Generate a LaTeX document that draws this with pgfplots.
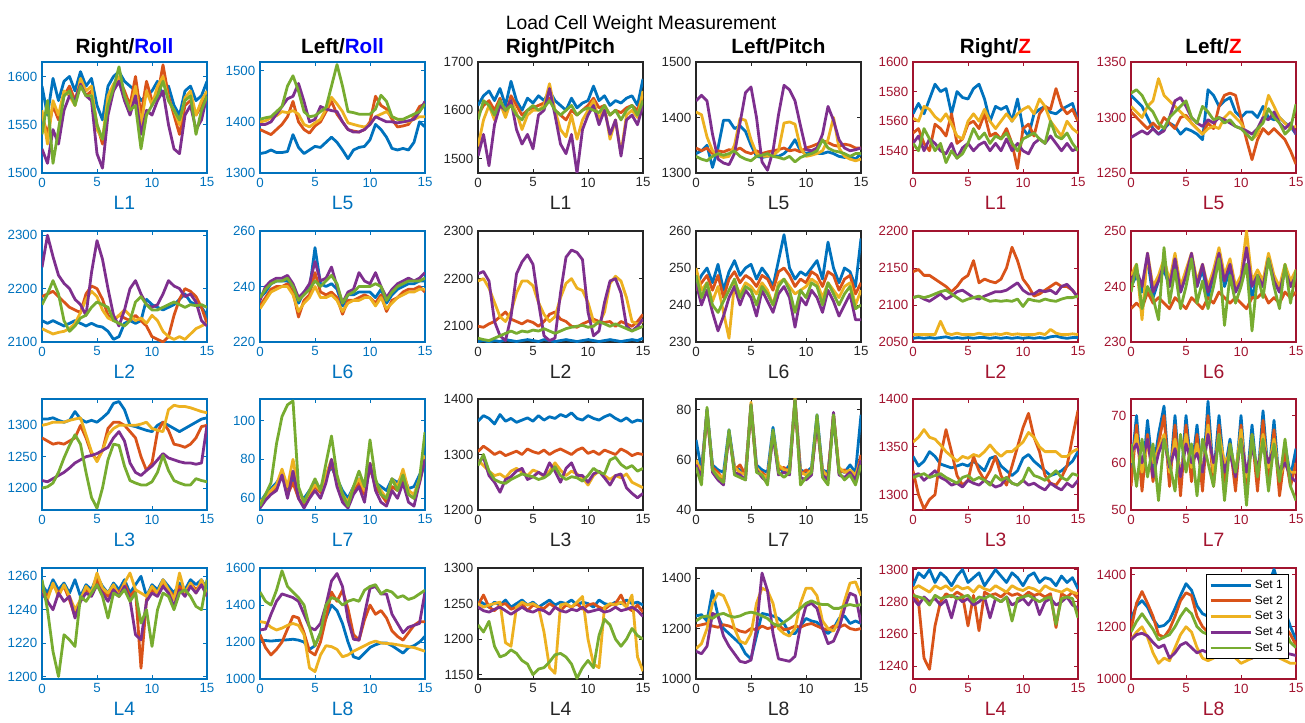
\documentclass[border=0pt]{standalone}
\usepackage{pgfplots}
\usepackage{pgfplotstable}
\pgfplotsset{compat=1.18}
\usepackage{fontspec}
\setmainfont{Liberation Sans}

\definecolor{c1}{rgb}{0,0.447,0.741}
\definecolor{c2}{rgb}{0.85,0.325,0.098}
\definecolor{c3}{rgb}{0.929,0.694,0.125}
\definecolor{c4}{rgb}{0.494,0.184,0.556}
\definecolor{c5}{rgb}{0.466,0.674,0.188}
\definecolor{axb}{rgb}{0,0.447,0.741}
\definecolor{axk}{rgb}{0.15,0.15,0.15}
\definecolor{axr}{rgb}{0.635,0.078,0.184}
\definecolor{tb}{rgb}{0,0,1}
\definecolor{tr}{rgb}{1,0,0}

\pgfplotsset{
  panel/.style={scale only axis, width=123.75pt, height=83.25pt, anchor=south west,
    xmin=0, xmax=15, xtick={0,5,10,15}, scaled ticks=false,
    xtick pos=both, ytick pos=both, xticklabel pos=lower, yticklabel pos=left,
    major tick length=3pt,
    /pgf/number format/assume math mode=true, /pgf/number format/1000 sep={},
    tick label style={font=\fontsize{10}{12}\selectfont},
    xlabel style={font=\fontsize{14.5}{17}\selectfont},
    legend image code/.code={\draw[##1] (0pt,0pt) -- (30pt,0pt);},
    legend style={at={(0.955,0.945)}, anchor=north east, draw=black, fill=white,
      line width=0.7pt, font=\fontsize{9}{11}\selectfont, inner sep=2pt, row sep=0pt},
    legend cell align=left},
  acol/.style={axis line style={draw=#1, line width=1pt}, tick style={draw=#1, line width=0.7pt},
    tick label style={text=#1}, label style={text=#1}},
  s1/.style={color=c1, line width=2.1pt, line join=round, mark=none},
  s2/.style={color=c2, line width=2.1pt, line join=round, mark=none},
  s3/.style={color=c3, line width=2.1pt, line join=round, mark=none},
  s4/.style={color=c4, line width=2.1pt, line join=round, mark=none},
  s5/.style={color=c5, line width=2.1pt, line join=round, mark=none},
}

% each raw table: one row per series, transposed to columns x a b c d e
% row 1
\pgfplotstableread[header=false]{
x 0 0.5 1 1.5 2 2.5 3 3.5 4 4.5 5 5.5 6 6.5 7 7.5 8 8.5 9 9.5 10 10.5 11 11.5 12 12.5 13 13.5 14 14.5 15
a 1590 1560 1598 1575 1595 1600 1585 1605 1590 1598 1570 1555 1590 1600 1605 1595 1590 1585 1575 1580 1585 1595 1580 1590 1570 1560 1585 1590 1575 1580 1595
b 1560 1540 1570 1555 1580 1590 1575 1595 1580 1585 1550 1530 1575 1590 1598 1585 1570 1600 1560 1595 1575 1580 1612 1580 1560 1540 1570 1575 1560 1570 1580
c 1565 1530 1575 1560 1585 1580 1570 1598 1585 1590 1545 1535 1580 1592 1600 1580 1565 1590 1550 1585 1570 1590 1600 1575 1565 1550 1578 1585 1560 1575 1585
d 1525 1510 1545 1530 1565 1580 1575 1592 1580 1575 1520 1505 1560 1585 1595 1575 1560 1580 1540 1565 1560 1575 1585 1550 1525 1520 1560 1570 1545 1555 1580
e 1540 1575 1510 1545 1580 1585 1570 1590 1580 1580 1550 1535 1570 1588 1610 1580 1565 1570 1525 1560 1570 1580 1595 1575 1565 1555 1575 1580 1540 1565 1580
}\raw
\pgfplotstabletranspose[colnames from=0]{\tA}{\raw}
\pgfplotstableread[header=false]{
x 0 0.5 1 1.5 2 2.5 3 3.5 4 4.5 5 5.5 6 6.5 7 7.5 8 8.5 9 9.5 10 10.5 11 11.5 12 12.5 13 13.5 14 14.5 15
a 1338 1340 1345 1340 1340 1342 1375 1350 1338 1345 1352 1350 1360 1370 1360 1345 1328 1345 1350 1352 1365 1395 1385 1370 1348 1345 1348 1345 1360 1400 1390
b 1385 1380 1375 1385 1395 1410 1440 1400 1385 1378 1392 1400 1420 1440 1415 1400 1385 1382 1380 1385 1400 1450 1432 1425 1405 1390 1392 1395 1410 1430 1435
c 1400 1402 1408 1412 1420 1418 1422 1415 1395 1390 1398 1405 1425 1448 1435 1420 1398 1395 1392 1390 1395 1410 1415 1420 1410 1405 1400 1400 1405 1410 1410
d 1395 1395 1400 1415 1430 1445 1450 1475 1440 1400 1405 1430 1425 1422 1420 1400 1385 1380 1380 1385 1395 1410 1405 1400 1400 1398 1400 1402 1405 1420 1440
e 1405 1408 1410 1420 1430 1470 1490 1460 1420 1410 1412 1420 1428 1470 1512 1470 1420 1418 1415 1415 1415 1425 1452 1440 1410 1405 1405 1410 1415 1420 1435
}\raw
\pgfplotstabletranspose[colnames from=0]{\tB}{\raw}
\pgfplotstableread[header=false]{
x 0 0.5 1 1.5 2 2.5 3 3.5 4 4.5 5 5.5 6 6.5 7 7.5 8 8.5 9 9.5 10 10.5 11 11.5 12 12.5 13 13.5 14 14.5 15
a 1610 1630 1640 1620 1645 1610 1660 1620 1600 1625 1615 1630 1620 1640 1620 1610 1600 1625 1605 1615 1620 1650 1620 1630 1610 1620 1615 1625 1630 1610 1665
b 1590 1610 1620 1600 1625 1590 1630 1610 1590 1600 1605 1610 1615 1625 1600 1590 1580 1600 1590 1600 1610 1625 1605 1610 1590 1600 1595 1605 1610 1600 1630
c 1525 1580 1610 1580 1615 1585 1620 1595 1560 1590 1600 1600 1610 1655 1600 1560 1545 1590 1540 1580 1600 1620 1580 1610 1540 1580 1510 1590 1600 1585 1640
d 1505 1550 1485 1570 1610 1600 1620 1560 1530 1550 1520 1590 1600 1645 1590 1530 1510 1550 1470 1560 1590 1610 1570 1600 1550 1580 1505 1580 1590 1570 1610
e 1580 1620 1610 1590 1620 1600 1610 1590 1580 1600 1610 1600 1605 1620 1600 1590 1600 1610 1590 1600 1605 1600 1595 1610 1590 1600 1580 1600 1610 1590 1620
}\raw
\pgfplotstabletranspose[colnames from=0]{\tC}{\raw}
\pgfplotstableread[header=false]{
x 0 0.5 1 1.5 2 2.5 3 3.5 4 4.5 5 5.5 6 6.5 7 7.5 8 8.5 9 9.5 10 10.5 11 11.5 12 12.5 13 13.5 14 14.5 15
a 1335 1340 1350 1310 1345 1395 1395 1380 1385 1375 1350 1330 1328 1330 1332 1330 1335 1345 1360 1340 1335 1338 1335 1335 1338 1335 1330 1328 1330 1325 1335
b 1345 1340 1345 1335 1340 1338 1342 1340 1345 1338 1335 1340 1335 1338 1340 1342 1345 1340 1342 1338 1345 1348 1352 1358 1355 1350 1348 1352 1350 1345 1345
c 1410 1405 1365 1340 1332 1328 1330 1350 1398 1395 1360 1335 1330 1330 1332 1340 1390 1392 1388 1345 1330 1332 1335 1340 1360 1400 1345 1330 1325 1322 1325
d 1430 1440 1430 1370 1325 1318 1315 1335 1390 1445 1455 1400 1320 1305 1340 1405 1458 1450 1430 1385 1342 1340 1345 1370 1420 1395 1360 1345 1340 1342 1345
e 1330 1325 1322 1330 1335 1332 1335 1340 1330 1325 1322 1330 1332 1335 1330 1328 1325 1330 1320 1328 1332 1335 1340 1360 1345 1340 1338 1335 1330 1335 1335
}\raw
\pgfplotstabletranspose[colnames from=0]{\tD}{\raw}
\pgfplotstableread[header=false]{
x 0 0.5 1 1.5 2 2.5 3 3.5 4 4.5 5 5.5 6 6.5 7 7.5 8 8.5 9 9.5 10 10.5 11 11.5 12 12.5 13 13.5 14 14.5 15
a 1565 1572 1565 1575 1585 1580 1582 1565 1580 1576 1575 1582 1585 1575 1560 1570 1568 1570 1560 1575 1555 1550 1565 1568 1570 1566 1565 1568 1570 1572 1560
b 1552 1555 1545 1540 1558 1555 1550 1565 1545 1548 1558 1560 1555 1565 1550 1552 1548 1555 1545 1528 1555 1558 1550 1565 1570 1568 1582 1570 1565 1568 1560
c 1562 1560 1570 1568 1563 1560 1565 1558 1550 1548 1560 1565 1560 1568 1560 1555 1560 1565 1560 1565 1568 1570 1565 1575 1570 1560 1555 1550 1560 1555 1552
d 1545 1550 1540 1548 1545 1540 1538 1545 1535 1542 1545 1540 1544 1546 1540 1545 1540 1548 1540 1545 1540 1538 1545 1548 1545 1550 1545 1540 1545 1540 1542
e 1545 1540 1555 1548 1540 1545 1532 1540 1535 1538 1545 1555 1548 1552 1545 1550 1548 1552 1545 1540 1548 1550 1552 1548 1545 1560 1550 1548 1552 1545 1540
}\raw
\pgfplotstabletranspose[colnames from=0]{\tE}{\raw}
\pgfplotstableread[header=false]{
x 0 0.5 1 1.5 2 2.5 3 3.5 4 4.5 5 5.5 6 6.5 7 7.5 8 8.5 9 9.5 10 10.5 11 11.5 12 12.5 13 13.5 14 14.5 15
a 1320 1315 1310 1300 1290 1285 1290 1295 1292 1285 1290 1288 1285 1280 1325 1320 1310 1315 1318 1305 1300 1305 1305 1300 1310 1300 1298 1300 1295 1292 1285
b 1305 1300 1295 1290 1295 1290 1300 1295 1290 1300 1302 1295 1290 1285 1295 1290 1310 1320 1322 1320 1300 1280 1262 1280 1290 1285 1290 1285 1280 1270 1258
c 1310 1305 1300 1310 1315 1335 1320 1315 1310 1305 1300 1295 1290 1285 1290 1292 1290 1300 1305 1300 1295 1285 1280 1285 1300 1320 1310 1300 1295 1290 1292
d 1282 1285 1288 1285 1290 1285 1288 1300 1315 1318 1310 1300 1295 1292 1298 1295 1300 1298 1295 1292 1290 1288 1285 1290 1300 1298 1305 1295 1290 1295 1285
e 1322 1325 1320 1310 1305 1295 1290 1300 1305 1310 1315 1300 1295 1310 1305 1298 1300 1295 1298 1292 1290 1285 1280 1290 1295 1308 1300 1295 1285 1290 1312
}\raw
\pgfplotstabletranspose[colnames from=0]{\tF}{\raw}
% row 2
\pgfplotstableread[header=false]{
x 0 0.5 1 1.5 2 2.5 3 3.5 4 4.5 5 5.5 6 6.5 7 7.5 8 8.5 9 9.5 10 10.5 11 11.5 12 12.5 13 13.5 14 14.5 15
a 2140 2135 2140 2135 2130 2135 2140 2135 2130 2135 2130 2128 2120 2105 2110 2135 2140 2135 2140 2180 2170 2165 2160 2165 2170 2180 2190 2175 2170 2165 2150
b 2185 2190 2195 2185 2175 2165 2160 2155 2190 2205 2200 2180 2150 2140 2150 2145 2140 2150 2140 2130 2110 2105 2100 2110 2150 2180 2200 2195 2185 2165 2135
c 2125 2120 2115 2118 2120 2125 2135 2155 2180 2195 2185 2160 2145 2140 2150 2160 2150 2140 2145 2135 2150 2140 2120 2110 2105 2110 2105 2115 2125 2130 2135
d 2240 2300 2260 2225 2210 2200 2180 2170 2150 2230 2290 2255 2200 2150 2130 2160 2200 2215 2190 2170 2165 2170 2190 2215 2205 2200 2185 2190 2175 2140 2130
e 2170 2190 2215 2190 2140 2120 2130 2145 2150 2165 2175 2170 2165 2140 2135 2130 2140 2175 2185 2170 2160 2160 2165 2170 2175 2170 2165 2170 2168 2170 2165
}\raw
\pgfplotstabletranspose[colnames from=0]{\tG}{\raw}
\pgfplotstableread[header=false]{
x 0 0.5 1 1.5 2 2.5 3 3.5 4 4.5 5 5.5 6 6.5 7 7.5 8 8.5 9 9.5 10 10.5 11 11.5 12 12.5 13 13.5 14 14.5 15
a 236 238 241 242 242 242 240 234 238 239 254 241 240 241 239 233 237 237 238 238 238 236 239 234 237 239 240 241 241 242 242
b 233 236 239 240 240 241 238 229 235 237 245 238 237 238 236 230 235 235 236 237 236 234 237 231 235 236 238 239 239 240 238
c 232 235 238 239 240 240 237 231 234 236 240 236 236 237 235 231 234 235 235 236 236 233 236 232 234 236 237 238 238 239 239
d 235 240 242 243 243 244 241 236 238 241 249 242 243 247 240 234 238 239 245 242 241 245 240 236 239 241 242 243 242 243 245
e 236 239 241 242 242 243 240 235 237 239 242 240 242 244 241 234 237 238 240 240 240 241 240 235 238 240 241 242 242 242 243
}\raw
\pgfplotstabletranspose[colnames from=0]{\tH}{\raw}
\pgfplotstableread[header=false]{
x 0 0.5 1 1.5 2 2.5 3 3.5 4 4.5 5 5.5 6 6.5 7 7.5 8 8.5 9 9.5 10 10.5 11 11.5 12 12.5 13 13.5 14 14.5 15
a 2068 2070 2067 2070 2068 2072 2070 2068 2070 2072 2070 2068 2072 2070 2068 2070 2072 2070 2068 2070 2072 2070 2068 2070 2072 2070 2068 2070 2072 2070 2075
b 2100 2098 2105 2110 2120 2130 2115 2110 2105 2112 2108 2100 2110 2125 2130 2115 2110 2100 2098 2105 2110 2115 2110 2108 2110 2100 2110 2105 2100 2110 2125
c 2195 2200 2180 2150 2120 2110 2130 2170 2195 2195 2185 2150 2125 2110 2120 2160 2190 2200 2180 2175 2150 2110 2105 2130 2190 2205 2195 2160 2110 2105 2110
d 2210 2215 2195 2110 2080 2070 2120 2210 2235 2250 2230 2150 2080 2070 2075 2170 2245 2260 2255 2240 2130 2080 2090 2150 2195 2200 2170 2100 2090 2100 2115
e 2075 2072 2070 2075 2080 2085 2090 2085 2090 2088 2092 2090 2095 2090 2085 2090 2095 2098 2100 2102 2098 2100 2110 2105 2100 2105 2100 2095 2090 2095 2100
}\raw
\pgfplotstabletranspose[colnames from=0]{\tI}{\raw}
\pgfplotstableread[header=false]{
x 0 0.5 1 1.5 2 2.5 3 3.5 4 4.5 5 5.5 6 6.5 7 7.5 8 8.5 9 9.5 10 10.5 11 11.5 12 12.5 13 13.5 14 14.5 15
a 245 248 250 246 251 244 249 252 248 250 251 247 250 248 245 252 259 250 247 249 248 250 252 247 257 250 246 250 249 245 258
b 244 246 248 244 248 242 247 249 246 248 247 245 248 247 244 249 250 248 245 247 246 249 248 245 249 248 244 247 248 243 246
c 250 244 246 241 245 238 231 246 243 246 245 243 246 244 240 246 247 245 243 244 245 247 246 242 246 244 242 245 246 240 244
d 246 240 244 238 233 237 242 245 240 244 242 237 244 241 238 243 245 242 234 242 240 244 242 238 244 241 237 240 243 236 236
e 248 242 246 240 238 241 244 247 242 245 244 240 245 243 240 245 247 244 238 244 242 246 245 240 246 243 240 243 245 239 240
}\raw
\pgfplotstabletranspose[colnames from=0]{\tJ}{\raw}
\pgfplotstableread[header=false]{
x 0 0.5 1 1.5 2 2.5 3 3.5 4 4.5 5 5.5 6 6.5 7 7.5 8 8.5 9 9.5 10 10.5 11 11.5 12 12.5 13 13.5 14 14.5 15
a 2055 2056 2055 2056 2055 2056 2057 2055 2056 2055 2056 2055 2056 2056 2055 2056 2055 2056 2055 2056 2055 2056 2055 2056 2055 2057 2058 2056 2055 2056 2056
b 2145 2148 2140 2140 2135 2130 2125 2118 2125 2135 2140 2160 2130 2135 2132 2130 2135 2150 2178 2160 2135 2125 2112 2115 2120 2125 2130 2125 2125 2120 2110
c 2060 2060 2060 2060 2060 2078 2062 2060 2062 2060 2060 2060 2062 2060 2060 2061 2060 2062 2060 2061 2060 2060 2060 2062 2060 2067 2062 2060 2060 2061 2060
d 2110 2112 2108 2105 2110 2115 2108 2112 2118 2120 2115 2110 2108 2112 2115 2118 2118 2120 2125 2130 2120 2115 2115 2120 2118 2120 2115 2125 2128 2120 2110
e 2110 2112 2110 2112 2115 2118 2120 2115 2110 2105 2108 2110 2112 2108 2105 2106 2105 2106 2105 2108 2098 2108 2106 2105 2108 2106 2105 2108 2110 2110 2112
}\raw
\pgfplotstabletranspose[colnames from=0]{\tK}{\raw}
\pgfplotstableread[header=false]{
x 0 0.5 1 1.5 2 2.5 3 3.5 4 4.5 5 5.5 6 6.5 7 7.5 8 8.5 9 9.5 10 10.5 11 11.5 12 12.5 13 13.5 14 14.5 15
a 240 242 239 245 238 241 243 240 244 239 242 245 240 243 238 242 246 240 243 239 241 244 238 242 240 245 241 239 243 240 242
b 236 237 236 239 237 238 237 236 238 237 236 238 237 236 238 237 239 238 237 238 237 236 238 238 239 237 238 237 239 238 239
c 242 244 234 246 240 242 245 241 246 240 243 246 241 244 240 243 247 242 245 240 242 250 241 243 241 246 242 240 244 241 243
d 241 243 240 246 239 241 244 240 245 239 242 246 240 244 239 242 246 241 244 239 241 247 240 242 240 245 241 239 243 240 242
e 239 244 236 240 238 234 247 237 243 236 240 245 237 241 236 240 245 233 242 237 240 244 232 242 238 245 240 236 244 237 243
}\raw
\pgfplotstabletranspose[colnames from=0]{\tL}{\raw}
% row 3
\pgfplotstableread[header=false]{
x 0 0.5 1 1.5 2 2.5 3 3.5 4 4.5 5 5.5 6 6.5 7 7.5 8 8.5 9 9.5 10 10.5 11 11.5 12 12.5 13 13.5 14 14.5 15
a 1310 1310 1312 1308 1305 1308 1322 1310 1305 1308 1305 1312 1320 1335 1338 1325 1300 1298 1295 1292 1290 1300 1305 1300 1295 1290 1295 1300 1305 1310 1312
b 1280 1275 1270 1272 1270 1275 1280 1300 1280 1255 1245 1260 1295 1305 1305 1300 1290 1280 1250 1228 1240 1290 1305 1292 1270 1268 1265 1270 1280 1298 1300
c 1300 1302 1305 1305 1305 1308 1310 1312 1285 1258 1242 1260 1285 1295 1300 1300 1300 1300 1302 1305 1295 1292 1290 1325 1332 1330 1330 1328 1325 1322 1320
d 1212 1210 1215 1220 1225 1232 1240 1245 1250 1252 1255 1260 1265 1280 1290 1275 1240 1225 1220 1228 1235 1245 1255 1248 1245 1242 1240 1240 1238 1240 1300
e 1200 1202 1208 1225 1248 1268 1285 1270 1225 1185 1168 1200 1245 1270 1268 1235 1212 1208 1205 1205 1210 1225 1252 1228 1212 1208 1205 1205 1215 1212 1210
}\raw
\pgfplotstabletranspose[colnames from=0]{\tM}{\raw}
\pgfplotstableread[header=false]{
x 0 0.5 1 1.5 2 2.5 3 3.5 4 4.5 5 5.5 6 6.5 7 7.5 8 8.5 9 9.5 10 10.5 11 11.5 12 12.5 13 13.5 14 14.5 15
a 58 62 65 68 72 65 70 62 60 64 68 65 72 76 70 64 60 66 70 65 75 68 66 64 70 68 72 65 66 72 78
b 56 60 63 66 74 62 68 60 56 62 66 63 70 78 68 60 57 63 68 62 76 66 62 58 66 64 70 62 60 68 80
c 58 61 64 67 75 66 80 64 58 63 67 64 72 80 70 62 58 66 70 64 78 68 64 60 70 66 75 64 62 70 82
d 55 59 62 64 72 60 74 60 55 60 64 60 68 80 66 58 55 62 66 58 78 64 58 56 64 60 68 58 56 68 80
e 56 62 68 88 102 108 110 66 58 64 70 64 78 92 72 62 56 66 74 66 90 70 62 60 70 64 72 62 60 70 94
}\raw
\pgfplotstabletranspose[colnames from=0]{\tN}{\raw}
\pgfplotstableread[header=false]{
x 0 0.5 1 1.5 2 2.5 3 3.5 4 4.5 5 5.5 6 6.5 7 7.5 8 8.5 9 9.5 10 10.5 11 11.5 12 12.5 13 13.5 14 14.5 15
a 1360 1370 1365 1355 1372 1360 1365 1358 1362 1366 1360 1370 1362 1368 1365 1372 1368 1375 1365 1362 1370 1365 1362 1368 1372 1365 1360 1366 1358 1362 1360
b 1305 1315 1308 1300 1305 1298 1302 1306 1300 1310 1305 1302 1308 1300 1306 1310 1305 1300 1308 1312 1302 1306 1300 1308 1304 1300 1310 1305 1298 1302 1300
c 1290 1280 1270 1262 1265 1258 1270 1275 1268 1262 1272 1268 1260 1270 1285 1272 1262 1270 1265 1258 1245 1262 1270 1262 1255 1262 1258 1265 1250 1245 1240
d 1285 1295 1262 1250 1232 1255 1260 1270 1275 1255 1260 1268 1262 1285 1270 1250 1275 1285 1262 1262 1250 1265 1270 1258 1245 1262 1265 1240 1230 1222 1230
e 1280 1300 1270 1255 1250 1248 1255 1260 1265 1262 1260 1255 1258 1265 1278 1262 1255 1260 1258 1252 1262 1275 1268 1265 1290 1295 1282 1275 1280 1270 1275
}\raw
\pgfplotstabletranspose[colnames from=0]{\tO}{\raw}
\pgfplotstableread[header=false]{
x 0 0.5 1 1.5 2 2.5 3 3.5 4 4.5 5 5.5 6 6.5 7 7.5 8 8.5 9 9.5 10 10.5 11 11.5 12 12.5 13 13.5 14 14.5 15
a 68 56 80 58 56 55 72 57 56 55 82 58 56 55 73 57 55 58 84 56 55 57 78 56 55 76 56 55 58 55 78
b 58 54 78 57 55 52 70 56 58 54 80 56 55 53 70 56 57 55 82 54 56 55 74 55 54 78 55 56 54 53 62
c 60 55 79 56 54 53 70 57 55 54 83 57 54 53 71 58 56 56 85 55 54 56 75 56 53 78 57 55 56 54 60
d 58 53 80 55 52 50 71 55 54 52 82 56 53 51 70 54 55 54 84 53 52 54 76 54 52 79 54 53 55 52 60
e 57 50 81 56 53 51 72 54 53 52 82 55 54 50 72 55 53 55 84 50 53 55 78 53 50 78 55 52 54 50 58
}\raw
\pgfplotstabletranspose[colnames from=0]{\tP}{\raw}
\pgfplotstableread[header=false]{
x 0 0.5 1 1.5 2 2.5 3 3.5 4 4.5 5 5.5 6 6.5 7 7.5 8 8.5 9 9.5 10 10.5 11 11.5 12 12.5 13 13.5 14 14.5 15
a 1340 1330 1335 1345 1340 1332 1330 1328 1330 1332 1330 1335 1330 1325 1338 1340 1330 1325 1320 1325 1338 1342 1335 1330 1325 1320 1322 1325 1330 1335 1345
b 1325 1300 1285 1295 1300 1340 1368 1345 1320 1310 1315 1340 1325 1315 1325 1340 1320 1310 1330 1350 1370 1385 1360 1345 1320 1312 1310 1318 1330 1360 1388
c 1355 1360 1368 1360 1358 1352 1345 1340 1335 1340 1338 1342 1340 1345 1352 1345 1340 1345 1345 1350 1355 1365 1360 1350 1345 1345 1345 1340 1340 1345 1348
d 1320 1322 1315 1320 1325 1318 1315 1310 1312 1308 1315 1312 1310 1315 1312 1308 1310 1318 1312 1310 1315 1310 1312 1308 1305 1312 1308 1305 1312 1308 1315
e 1318 1320 1322 1318 1320 1322 1318 1315 1312 1318 1320 1315 1318 1315 1310 1320 1315 1318 1312 1310 1315 1328 1320 1318 1315 1320 1325 1318 1315 1322 1320
}\raw
\pgfplotstabletranspose[colnames from=0]{\tQ}{\raw}
\pgfplotstableread[header=false]{
x 0 0.5 1 1.5 2 2.5 3 3.5 4 4.5 5 5.5 6 6.5 7 7.5 8 8.5 9 9.5 10 10.5 11 11.5 12 12.5 13 13.5 14 14.5 15
a 58 70 56 69 58 66 72 56 70 55 70 58 68 56 73 57 70 58 65 56 70 55 68 56 71 57 69 55 64 57 63
b 55 68 54 66 56 64 70 55 68 53 68 56 66 54 70 55 68 56 64 54 68 53 66 54 69 55 67 53 62 55 60
c 60 66 58 64 60 63 66 58 65 57 66 59 64 58 68 58 66 60 62 58 67 57 64 58 66 59 65 57 60 58 58
d 62 64 60 65 57 62 65 59 63 57 64 60 62 58 66 60 64 58 62 57 65 58 63 59 64 60 63 58 60 57 56
e 64 55 65 57 64 52 65 60 54 66 58 64 53 65 60 55 66 52 64 58 65 51 66 57 65 54 64 56 65 55 52
}\raw
\pgfplotstabletranspose[colnames from=0]{\tR}{\raw}
% row 4
\pgfplotstableread[header=false]{
x 0 0.5 1 1.5 2 2.5 3 3.5 4 4.5 5 5.5 6 6.5 7 7.5 8 8.5 9 9.5 10 10.5 11 11.5 12 12.5 13 13.5 14 14.5 15
a 1255 1250 1258 1252 1256 1250 1258 1248 1255 1252 1260 1254 1250 1256 1252 1258 1250 1255 1260 1248 1255 1252 1258 1254 1250 1256 1252 1258 1255 1258 1252
b 1252 1248 1255 1250 1254 1246 1236 1246 1252 1250 1258 1252 1248 1254 1250 1256 1248 1252 1205 1246 1252 1250 1256 1252 1248 1254 1250 1256 1252 1256 1250
c 1250 1246 1256 1248 1255 1248 1240 1246 1254 1250 1262 1253 1250 1255 1248 1256 1262 1252 1250 1248 1254 1250 1258 1252 1246 1262 1250 1256 1250 1258 1250
d 1250 1245 1240 1250 1245 1248 1235 1245 1250 1248 1255 1250 1245 1252 1248 1254 1246 1225 1222 1245 1250 1248 1254 1250 1242 1252 1248 1254 1250 1255 1248
e 1258 1240 1215 1200 1225 1222 1218 1248 1245 1250 1255 1248 1235 1250 1248 1252 1245 1250 1232 1240 1218 1240 1250 1248 1240 1250 1252 1248 1242 1240 1258
}\raw
\pgfplotstabletranspose[colnames from=0]{\tS}{\raw}
\pgfplotstableread[header=false]{
x 0 0.5 1 1.5 2 2.5 3 3.5 4 4.5 5 5.5 6 6.5 7 7.5 8 8.5 9 9.5 10 10.5 11 11.5 12 12.5 13 13.5 14 14.5 15
a 1210 1208 1205 1208 1210 1212 1215 1210 1200 1160 1180 1250 1330 1400 1370 1300 1200 1120 1110 1140 1170 1185 1195 1195 1180 1160 1140 1170 1180 1200 1230
b 1240 1170 1130 1160 1200 1270 1340 1330 1250 1150 1130 1200 1330 1470 1420 1480 1380 1240 1210 1320 1400 1350 1370 1330 1260 1230 1210 1250 1290 1310 1310
c 1310 1305 1280 1265 1275 1290 1300 1290 1240 1060 1040 1130 1180 1175 1160 1120 1130 1150 1165 1180 1195 1205 1195 1192 1190 1185 1180 1175 1170 1160 1150
d 1265 1270 1350 1420 1460 1450 1440 1420 1350 1280 1265 1300 1400 1530 1570 1500 1320 1215 1210 1350 1490 1500 1460 1460 1350 1300 1250 1280 1290 1300 1470
e 1470 1420 1400 1480 1585 1500 1470 1440 1400 1280 1180 1250 1400 1440 1430 1400 1420 1430 1420 1480 1500 1510 1460 1480 1470 1440 1450 1430 1440 1460 1480
}\raw
\pgfplotstabletranspose[colnames from=0]{\tT}{\raw}
\pgfplotstableread[header=false]{
x 0 0.5 1 1.5 2 2.5 3 3.5 4 4.5 5 5.5 6 6.5 7 7.5 8 8.5 9 9.5 10 10.5 11 11.5 12 12.5 13 13.5 14 14.5 15
a 1255 1250 1245 1252 1248 1255 1245 1250 1255 1248 1252 1245 1250 1255 1248 1252 1250 1255 1248 1252 1250 1245 1255 1250 1248 1252 1250 1255 1250 1252 1248
b 1248 1262 1245 1240 1248 1250 1242 1245 1250 1240 1248 1245 1243 1250 1245 1240 1248 1245 1250 1242 1248 1250 1245 1242 1248 1250 1262 1245 1240 1248 1238
c 1250 1245 1248 1250 1252 1195 1190 1245 1252 1248 1250 1245 1210 1160 1152 1248 1250 1245 1252 1260 1200 1165 1160 1245 1250 1248 1252 1245 1262 1175 1155
d 1245 1240 1238 1242 1245 1240 1235 1240 1245 1240 1238 1242 1240 1235 1245 1240 1238 1242 1240 1245 1238 1240 1242 1238 1240 1245 1240 1242 1245 1240 1232
e 1220 1210 1225 1190 1175 1178 1185 1180 1170 1165 1150 1158 1160 1168 1178 1180 1175 1165 1145 1160 1170 1160 1205 1228 1220 1200 1190 1200 1215 1205 1200
}\raw
\pgfplotstabletranspose[colnames from=0]{\tU}{\raw}
\pgfplotstableread[header=false]{
x 0 0.5 1 1.5 2 2.5 3 3.5 4 4.5 5 5.5 6 6.5 7 7.5 8 8.5 9 9.5 10 10.5 11 11.5 12 12.5 13 13.5 14 14.5 15
a 1250 1255 1230 1350 1250 1200 1180 1160 1140 1100 1080 1170 1260 1255 1250 1240 1220 1180 1180 1210 1240 1230 1225 1200 1180 1200 1240 1250 1220 1230 1220
b 1210 1215 1220 1210 1205 1215 1210 1200 1190 1185 1200 1195 1210 1200 1205 1215 1195 1200 1210 1205 1215 1220 1210 1200 1195 1210 1205 1215 1200 1195 1200
c 1120 1140 1200 1300 1340 1330 1280 1200 1150 1140 1180 1300 1360 1350 1300 1200 1180 1170 1200 1300 1360 1360 1330 1230 1200 1190 1230 1310 1380 1385 1330
d 1110 1100 1130 1260 1250 1170 1130 1100 1070 1065 1075 1200 1420 1350 1180 1080 1075 1070 1090 1210 1290 1300 1280 1200 1140 1150 1200 1280 1340 1330 1220
e 1230 1245 1250 1240 1255 1260 1250 1245 1250 1260 1265 1260 1250 1240 1220 1210 1225 1240 1260 1280 1300 1310 1300 1295 1295 1280 1280 1290 1295 1290 1295
}\raw
\pgfplotstabletranspose[colnames from=0]{\tV}{\raw}
\pgfplotstableread[header=false]{
x 0 0.5 1 1.5 2 2.5 3 3.5 4 4.5 5 5.5 6 6.5 7 7.5 8 8.5 9 9.5 10 10.5 11 11.5 12 12.5 13 13.5 14 14.5 15
a 1290 1298 1295 1300 1292 1298 1295 1290 1296 1300 1292 1295 1298 1290 1295 1300 1296 1292 1298 1295 1290 1296 1298 1292 1295 1294 1290 1296 1292 1295 1288
b 1285 1280 1245 1238 1265 1280 1285 1283 1286 1284 1265 1284 1262 1286 1284 1285 1283 1286 1284 1285 1283 1286 1284 1285 1283 1285 1264 1285 1283 1286 1282
c 1288 1290 1288 1286 1290 1288 1290 1287 1290 1288 1289 1286 1290 1288 1287 1290 1288 1286 1290 1288 1287 1289 1288 1286 1290 1288 1287 1286 1288 1286 1285
d 1282 1278 1283 1280 1282 1278 1281 1270 1283 1280 1282 1278 1280 1283 1270 1282 1280 1283 1278 1280 1282 1278 1283 1272 1280 1282 1278 1280 1283 1278 1276
e 1284 1283 1282 1278 1284 1282 1283 1284 1282 1283 1284 1280 1283 1282 1284 1282 1280 1283 1268 1282 1283 1284 1282 1280 1282 1283 1266 1282 1283 1282 1270
}\raw
\pgfplotstabletranspose[colnames from=0]{\tW}{\raw}
\pgfplotstableread[header=false]{
x 0 0.5 1 1.5 2 2.5 3 3.5 4 4.5 5 5.5 6 6.5 7 7.5 8 8.5 9 9.5 10 10.5 11 11.5 12 12.5 13 13.5 14 14.5 15
a 1230 1280 1300 1275 1230 1200 1205 1225 1270 1320 1365 1340 1280 1250 1240 1235 1230 1235 1240 1230 1225 1230 1240 1250 1300 1360 1420 1350 1260 1200 1150
b 1190 1290 1335 1290 1240 1170 1160 1190 1240 1300 1330 1320 1240 1200 1180 1190 1200 1190 1180 1170 1180 1190 1200 1210 1220 1230 1240 1230 1200 1170 1130
c 1150 1180 1200 1160 1100 1060 1080 1070 1120 1170 1200 1180 1120 1080 1070 1080 1100 1120 1100 1080 1060 1070 1080 1100 1120 1110 1090 1080 1070 1060 1060
d 1150 1170 1175 1165 1140 1120 1130 1080 1100 1130 1140 1120 1100 1110 1100 1090 1100 1110 1095 1090 1100 1090 1080 1090 1100 1110 1100 1090 1100 1095 1090
e 1180 1220 1250 1220 1190 1150 1160 1170 1200 1240 1270 1250 1200 1180 1170 1180 1190 1200 1190 1180 1170 1180 1190 1200 1210 1220 1210 1200 1180 1140 1120
}\raw
\pgfplotstabletranspose[colnames from=0]{\tX}{\raw}

% #1 position, #2 ymin, #3 ymax, #4 yticks, #5 extra options, #6 xlabel, #7 table
\newcommand{\panel}[7]{%
\begin{axis}[panel, at={(#1)}, ymin=#2, ymax=#3, ytick={#4}, #5, xlabel={#6}]
\addplot[s1] table[x=x,y=a]{#7};
\addplot[s2] table[x=x,y=b]{#7};
\addplot[s3] table[x=x,y=c]{#7};
\addplot[s4] table[x=x,y=d]{#7};
\addplot[s5] table[x=x,y=e]{#7};
\end{axis}}

\begin{document}
\begin{tikzpicture}
\path[use as bounding box] (0pt,0pt) rectangle (978.75pt,-542.25pt);
% row 1
\panel{31.5pt,-129.75pt}{1500}{1615}{1500,1550,1600}{acol=axb}{L1}{\tA}
\panel{195pt,-129.75pt}{1300}{1517}{1300,1400,1500}{acol=axb}{L5}{\tB}
\panel{358.5pt,-129.75pt}{1470}{1700}{1500,1600,1700}{acol=axk}{L1}{\tC}
\panel{522pt,-129.75pt}{1300}{1500}{1300,1400,1500}{acol=axk}{L5}{\tD}
\panel{684.75pt,-129.75pt}{1525}{1600}{1540,1560,1580,1600}{acol=axr}{L1}{\tE}
\panel{848.25pt,-129.75pt}{1250}{1350}{1250,1300,1350}{acol=axr}{L5}{\tF}
% row 2
\panel{31.5pt,-256.5pt}{2100}{2308}{2100,2200,2300}{acol=axb}{L2}{\tG}
\panel{195pt,-256.5pt}{220}{260}{220,240,260}{acol=axb}{L6}{\tH}
\panel{358.5pt,-256.5pt}{2067}{2300}{2100,2200,2300}{acol=axk}{L2}{\tI}
\panel{522pt,-256.5pt}{230}{260}{230,240,250,260}{acol=axk}{L6}{\tJ}
\panel{684.75pt,-256.5pt}{2050}{2200}{2050,2100,2150,2200}{acol=axr}{L2}{\tK}
\panel{848.25pt,-256.5pt}{230}{250}{230,240,250}{acol=axr}{L6}{\tL}
% row 3
\panel{31.5pt,-382.5pt}{1165}{1342}{1200,1250,1300}{acol=axb}{L3}{\tM}
\panel{195pt,-382.5pt}{54}{111}{60,80,100}{acol=axb}{L7}{\tN}
\panel{358.5pt,-382.5pt}{1200}{1400}{1200,1300,1400}{acol=axk}{L3}{\tO}
\panel{522pt,-382.5pt}{40}{84.3}{40,60,80}{acol=axk}{L7}{\tP}
\panel{684.75pt,-382.5pt}{1284}{1400}{1300,1350,1400}{acol=axr}{L3}{\tQ}
\panel{848.25pt,-382.5pt}{50}{73.5}{50,60,70}{acol=axr}{L7}{\tR}
% row 4
\panel{31.5pt,-509.25pt}{1198.5}{1265}{1200,1220,1240,1260}{acol=axb}{L4}{\tS}
\panel{195pt,-509.25pt}{1000}{1600}{1000,1200,1400,1600}{acol=axb}{L8}{\tT}
\panel{358.5pt,-509.25pt}{1144}{1300}{1150,1200,1250,1300}{acol=axk}{L4}{\tU}
\panel{522pt,-509.25pt}{1000}{1440}{1000,1200,1400}{acol=axk}{L8}{\tV}
\panel{684.75pt,-509.25pt}{1232}{1301}{1240,1260,1280,1300}{acol=axr}{L4}{\tW}
\panel{848.25pt,-509.25pt}{1000}{1425}{1000,1200,1400}{acol=axr, legend entries={Set 1,Set 2,Set 3,Set 4,Set 5}}{L8}{\tX}
% titles
\node[anchor=base, font=\fontsize{14.5}{17}\selectfont] at (480.75pt,-22.5pt) {Load Cell Weight Measurement};
\begin{scope}[every node/.style={anchor=base, font=\bfseries\fontsize{15.5}{18}\selectfont}]
\node at (93.375pt,-40.5pt) {Right/\textcolor{tb}{Roll}};
\node at (256.875pt,-40.5pt) {Left/\textcolor{tb}{Roll}};
\node at (420.375pt,-40.5pt) {Right/Pitch};
\node at (583.875pt,-40.5pt) {Left/Pitch};
\node at (746.625pt,-40.5pt) {Right/\textcolor{tr}{Z}};
\node at (910.125pt,-40.5pt) {Left/\textcolor{tr}{Z}};
\end{scope}
\end{tikzpicture}
\end{document}
